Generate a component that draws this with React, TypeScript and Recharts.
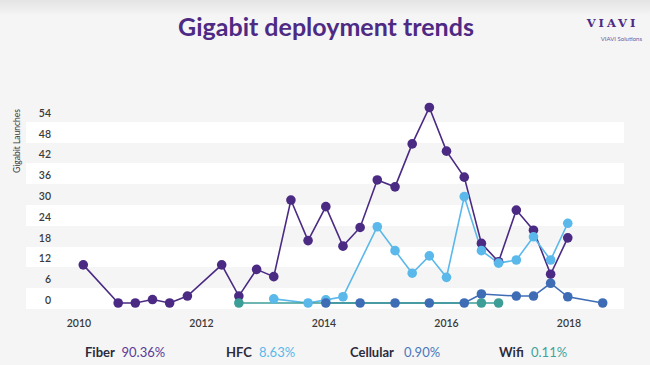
import React from 'react';
import { LineChart, Line, XAxis, YAxis, CartesianGrid } from 'recharts';

const periods = [
  2010.07, 2010.35, 2010.64, 2010.92, 2011.2, 2011.48, 2011.77, 2012.05, 2012.33, 2012.61,
  2012.9, 2013.18, 2013.46, 2013.74, 2014.03, 2014.31, 2014.59, 2014.87, 2015.16, 2015.44,
  2015.72, 2016.0, 2016.29, 2016.57, 2016.85, 2017.14, 2017.42, 2017.7, 2017.98, 2018.27, 2018.55,
];
const fiber = [
  11, null, 0, 0, 1, 0, 2, null, 11, 2, 9.7, 7.6, 29.7, 18, 27.8, 16.4, 21.8, 35.5, 33.5, 45.9,
  56.4, 43.8, 36.3, 17.2, 11.9, 26.8, 21, 8.3, 18.8, null, null,
];
const hfc = [
  null, null, null, null, null, null, null, null, null, null, null, 1.2, null, 0, 0.9, 1.8, null,
  22, 15.1, 8.6, 13.6, 7.4, 30.7, 15.1, 11.5, 12.4, 19.1, 12.4, 23, null, null,
];
const cellular = [
  null, null, null, null, null, null, null, null, null, null, null, null, null, null, 0, null, 0,
  null, 0, null, 0, null, 0, 2.6, null, 2, 2, 5.7, 1.8, null, 0,
];
const wifi = [
  null, null, null, null, null, null, null, null, null, 0, null, null, null, null, null, null, null,
  null, null, null, null, null, null, 0, 0, null, null, null, null, null, null,
];

const yTicks = [0, 6, 12, 18, 24, 30, 36, 42, 48, 54];
const xTicks = [2010, 2012, 2014, 2016, 2018];

const legendNames = ['Fiber', 'HFC', 'Cellular', 'Wifi'];
const legendShares = ['90.36%', '8.63%', '0.90%', '0.11%'];

const COLORS = {
  fiber: '#4a2a83',
  hfc: '#5ab8ea',
  cellular: '#3f6db5',
  wifi: '#3c9e97',
};
const legendColors = ['#5b3a98', '#5ab8ea', '#4a78bd', '#3fa39b'];
const legendNameX = [85, 226, 350, 499];
const legendValueX = [121.5, 259, 404, 531];

const data = periods.map((t, i) => ({
  t,
  fiber: fiber[i],
  hfc: hfc[i],
  cellular: cellular[i],
  wifi: wifi[i],
}));

const FONT = 'Lato, "Open Sans", sans-serif';

const YTick = (props: any) => {
  const { y, payload } = props;
  return (
    <text x={51} y={y - 3} textAnchor="end" dominantBaseline="central" fontFamily={FONT} fontSize={10.5} fontWeight={600} fill="#3a3a3a">
      {payload.value}
    </text>
  );
};

const XTick = (props: any) => {
  const { x, payload } = props;
  return (
    <text x={x} y={323} textAnchor="middle" dominantBaseline="central" fontFamily={FONT} fontSize={10.5} fontWeight={600} fill="#3a3a3a">
      {payload.value}
    </text>
  );
};

const dot = (c: string) => ({ r: 4.8, fill: c, stroke: c, strokeWidth: 0 });

export default function App() {
  return (
    <div style={{ position: 'fixed', left: 0, top: 0, width: 650, height: 365, background: '#f5f5f5', overflow: 'hidden' }}>
      <div style={{ position: 'absolute', left: 0, top: 0, width: 650, height: 16, background: 'linear-gradient(#e4e4e4, #f5f5f5)' }} />
      <div style={{ position: 'absolute', left: 0, top: 0 }}>
        <LineChart width={650} height={365} data={data} margin={{ top: 101, right: 26, bottom: 36, left: 0 }}>
          <CartesianGrid
            vertical={false}
            horizontal={true}
            stroke="none"
            horizontalFill={['#f5f5f5', '#ffffff']}
            horizontalCoordinatesGenerator={(p: any) => {
              const top = p.offset.top;
              const h = p.offset.height;
              const arr: number[] = [];
              for (let k = 0; k < 10; k++) arr.push(top + (k * h) / 10);
              return arr;
            }}
          />
          <XAxis
            dataKey="t"
            type="number"
            domain={[2009.135, 2018.898]}
            ticks={xTicks}
            allowDataOverflow
            axisLine={false}
            tickLine={false}
            height={20}
            tick={<XTick />}
          />
          <YAxis
            type="number"
            domain={[-1.73, 58.27]}
            ticks={yTicks}
            interval={0}
            allowDataOverflow
            axisLine={false}
            tickLine={false}
            width={26}
            tick={<YTick />}
          />
          <Line type="linear" dataKey="fiber" stroke={COLORS.fiber} strokeWidth={1.6} dot={dot(COLORS.fiber)} activeDot={false} connectNulls isAnimationActive={false} />
          <Line type="linear" dataKey="hfc" stroke={COLORS.hfc} strokeWidth={1.6} dot={dot(COLORS.hfc)} activeDot={false} connectNulls isAnimationActive={false} />
          <Line type="linear" dataKey="cellular" stroke={COLORS.cellular} strokeWidth={1.6} dot={dot(COLORS.cellular)} activeDot={false} connectNulls isAnimationActive={false} />
          <Line type="linear" dataKey="wifi" stroke={COLORS.wifi} strokeWidth={1.6} dot={dot(COLORS.wifi)} activeDot={false} connectNulls isAnimationActive={false} />
        </LineChart>
      </div>
      <svg width={650} height={365} style={{ position: 'absolute', left: 0, top: 0, pointerEvents: 'none' }}>
        <text x={326} y={35.5} textAnchor="middle" fontFamily={FONT} fontSize={25} fontWeight={700} fill="#4e2a84">
          Gigabit deployment trends
        </text>
        <text x={612.5} y={27} textAnchor="middle" fontFamily='"DejaVu Serif", serif' fontSize={11.5} fontWeight={700} letterSpacing={3} fill="#4e2a84">
          VIAVI
        </text>
        <text x={642} y={40.5} textAnchor="end" fontFamily={FONT} fontSize={6} fill="#6b5a9e">
          VIAVI Solutions
        </text>
        <text x={17} y={141} transform="rotate(-90 17 141)" textAnchor="middle" dominantBaseline="central" fontFamily={FONT} fontSize={8.5} fill="#3a3a3a">
          Gigabit Launches
        </text>
        {legendNames.map((n, i) => (
          <g key={n}>
            <text x={legendNameX[i]} y={357} fontFamily={FONT} fontSize={13} fontWeight={700} fill="#2b2b3b">
              {n}
            </text>
            <text x={legendValueX[i]} y={357} fontFamily={FONT} fontSize={13} fill={legendColors[i]}>
              {legendShares[i]}
            </text>
          </g>
        ))}
      </svg>
    </div>
  );
}
